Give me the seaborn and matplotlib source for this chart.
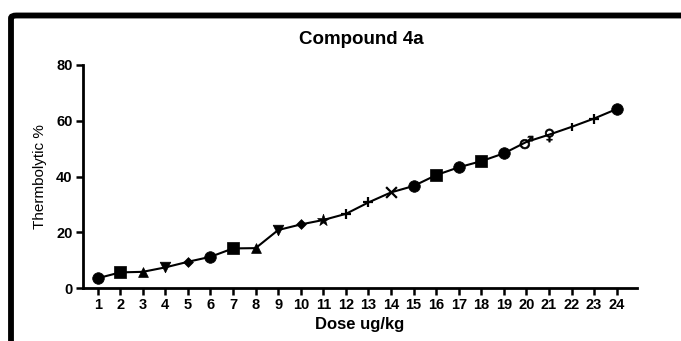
import matplotlib
matplotlib.use("Agg")
import matplotlib.pyplot as plt
import seaborn as sns
import pandas as pd
from matplotlib.patches import FancyBboxPatch

# ---- data ----
doses = list(range(1, 25))
thermolytic = [3.5, 5.6, 5.8, 7.4, 9.4, 11.2, 14.2, 14.3, 20.8, 22.8, 24.4, 26.6,
               30.7, 34.3, 36.6, 40.5, 43.3, 45.5, 48.3, 52.4, 55.0, 57.8, 60.8, 64.2]
point_markers = ['o', 's', '^', 'v', 'D', 'o', 's', '^', 'v', 'D', '*', '+',
                 '+', 'x', 'o', 's', 'o', 's', 'o', '$\u2642$', '$\u2640$', '|', '+', 'o']
x_ticks = list(range(1, 25))
y_ticks = [0, 20, 40, 60, 80]
title = "Compound 4a"
x_label = "Dose ug/kg"
y_label = "Thermbolytic %"

df = pd.DataFrame({"dose": doses, "value": thermolytic, "marker": point_markers})

sns.set_theme(style="ticks")
plt.rcParams['font.family'] = ['Liberation Sans', 'DejaVu Sans']
plt.rcParams['text.color'] = 'black'
plt.rcParams['axes.labelcolor'] = 'black'
plt.rcParams['xtick.color'] = 'black'
plt.rcParams['ytick.color'] = 'black'

W, H = 681, 341
fig = plt.figure(figsize=(W / 100, H / 100), dpi=100)
ax = fig.add_axes([83 / W, (H - 288) / H, (637 - 83) / W, 223 / H])

sns.lineplot(data=df, x="dose", y="value", color="black", linewidth=1.5, ax=ax)

sizes = {'o': 70, 's': 68, '^': 50, 'v': 58, 'D': 25, '*': 80, '+': 55, 'x': 60,
         '|': 30, '$\u2642$': 90, '$\u2640$': 90}
line_art = {'+', 'x', '|'}
for m in dict.fromkeys(point_markers):
    sub = df[df["marker"] == m]
    if m in line_art:
        sns.scatterplot(data=sub, x="dose", y="value", marker=m, s=sizes[m],
                        color="black", linewidth=1.6, ax=ax, zorder=3)
    else:
        sns.scatterplot(data=sub, x="dose", y="value", marker=m, s=sizes[m],
                        color="black", edgecolor="black", linewidth=0.5, ax=ax, zorder=3)

ax.set_xlim(0.35, 24.9)
ax.set_ylim(0, 80)
ax.set_xticks(x_ticks)
ax.set_yticks(y_ticks)
ax.set_xticklabels([str(t) for t in x_ticks], fontsize=10.5, fontweight="bold")
ax.set_yticklabels([str(t) for t in y_ticks], fontsize=10.5, fontweight="bold")
for side in ["top", "right"]:
    ax.spines[side].set_visible(False)
for side in ["left", "bottom"]:
    ax.spines[side].set_linewidth(2.0)
    ax.spines[side].set_color("black")
ax.tick_params(axis="both", direction="out", length=5, width=1.8, pad=2.5)

ax.set_xlabel(x_label, fontsize=12, fontweight="bold")
ax.set_ylabel(y_label, fontsize=11)
ax.xaxis.label.set_va("center")
ax.yaxis.label.set_va("center")
ax.xaxis.set_label_coords(0.5, -(325 - 288) / 223)
ax.yaxis.set_label_coords(-(83 - 40) / 554, 0.5)

fig.text(361 / W, 1 - 39 / H, title, ha="center", va="center", fontsize=13.5, fontweight="bold")

frame = FancyBboxPatch((11 / W, -0.2), 1.0, (1 - 15.5 / H) + 0.2,
                       boxstyle="round,pad=0,rounding_size=0.008",
                       transform=fig.transFigure, fill=False, edgecolor="black",
                       linewidth=4.2, zorder=10)
fig.patches.append(frame)

fig.savefig("out.png", dpi=100, facecolor="white")
